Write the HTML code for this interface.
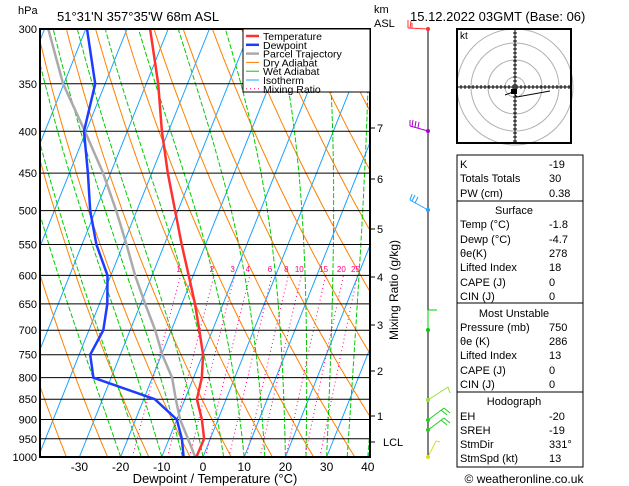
<!DOCTYPE html>
<html><head><meta charset="utf-8">
<style>
html,body{margin:0;padding:0;background:#fff;}
svg{display:block;font-family:"Liberation Sans",sans-serif;}
</style></head>
<body>
<svg id="chart" width="629" height="486" viewBox="0 0 629 486" xmlns="http://www.w3.org/2000/svg">
<defs><clipPath id="plotclip"><rect x="40" y="29" width="330" height="428"/></clipPath></defs>
<rect width="629" height="486" fill="#fff"/>
<g id="bg" clip-path="url(#plotclip)"></g>
<g id="grid"></g>
<g id="series" clip-path="url(#plotclip)"></g>
<g id="axes"></g>
<text x="18" y="14" font-size="11">hPa</text>
<text x="57" y="21" font-size="13">51°31'N  357°35'W  68m  ASL</text>
<text x="374" y="13" font-size="11">km</text>
<text x="374" y="27" font-size="11">ASL</text>
<text x="410" y="21" font-size="13">15.12.2022  03GMT  (Base: 06)</text>
<text x="215" y="483" font-size="13" text-anchor="middle">Dewpoint / Temperature (°C)</text>
<text transform="translate(398,290) rotate(-90)" font-size="12" text-anchor="middle">Mixing Ratio (g/kg)</text>
<g id="legend"></g>
<g id="winds"></g>
<g id="hodo"></g>
<g id="table"></g>
<text x="524" y="483" font-size="12" text-anchor="middle">© weatheronline.co.uk</text>
</svg>
<script>
const pressures = [1000,950,900,850,800,750,700,650,600,550,500,450,400,350,300];
const tempValues = [-1.6,-1.5,-3.9,-7.1,-8.0,-9.9,-13.2,-16.8,-21.1,-25.8,-30.7,-36.1,-41.6,-47.1,-54.4];
const dewValues = [-4.7,-6.9,-10.0,-17.3,-34.3,-37.3,-36.5,-38.1,-40.8,-46.5,-51.3,-55.5,-60.5,-62.4,-69.7];
const parcelValues = [-1.9,-5.4,-9.2,-12.2,-15.2,-19.8,-23.9,-28.9,-34.1,-39.2,-45.0,-51.8,-60.3,-70.2,-79.1];
const xTicks = [-30,-20,-10,0,10,20,30,40];
const pTicks = [300,350,400,450,500,550,600,650,700,750,800,850,900,950,1000];
const mixRatios = [1,2,3,4,6,8,10,15,20,25];
const kmTicks = [[7,128],[6,179],[5,229],[4,277],[3,325],[2,371],[1,416]];

const NS="http://www.w3.org/2000/svg";
function yP(p){return 29+428*Math.log(p/300)/Math.log(1000/300);}
function xT(T,p){return 203+4.12*T+0.4*(457-yP(p));}
function mk(tag,attrs,parent){const e=document.createElementNS(NS,tag);for(const k in attrs)e.setAttribute(k,attrs[k]);parent.appendChild(e);return e;}
const bg=document.getElementById('bg'),grid=document.getElementById('grid'),series=document.getElementById('series'),axes=document.getElementById('axes');
function poly(pts,stroke,w,dash,parent,name){const e=mk('polyline',{points:pts.map(p=>p[0].toFixed(1)+','+p[1].toFixed(1)).join(' '),fill:'none',stroke:stroke,'stroke-width':w},parent);if(dash)e.setAttribute('stroke-dasharray',dash);


return e;}
for(let T=-120;T<=40;T+=10){poly([[xT(T,1000),yP(1000)],[xT(T,300),yP(300)]],'#1aa3ff',1,null,bg,'isotherm');}
for(let th=200;th<=480;th+=10){const pts=[];for(let p=1000;p>=300;p-=10){pts.push([xT(th*Math.pow(p/1000,0.286)-273.15,p),yP(p)]);}poly(pts,'#ff8000',1,null,bg,'dry-adiabat');}
function es(T){return 6.112*Math.exp(17.67*T/(T+243.5));}
for(let T0=-20;T0<=40;T0+=5){let T=T0;const pts=[[xT(T,1000),yP(1000)]];for(let p=1000;p>300;p-=5){const Tk=T+273.15;const rs=0.622*es(T)/(p-es(T));const dTdp=(287*Tk+2.5e6*rs)/(1004+(2.5e6*2.5e6*rs*0.622)/(287*Tk*Tk))/p;T-=dTdp*5;pts.push([xT(T,p-5),yP(p-5)]);}poly(pts,'#00cc00',1,'5,2',bg,'wet-adiabat');}
function tdFromW(w,p){const e=w*p/(622+w);const l=Math.log(e/6.112);return 243.5*l/(17.67-l);}
mixRatios.forEach(w=>{const pts=[];for(let p=1000;p>=600;p-=20)pts.push([xT(tdFromW(w,p),p),yP(p)]);poly(pts,'#ff0080',1,'1,3',bg,'mixing-ratio-line');
const t=mk('text',{x:xT(tdFromW(w,600),600)-2,y:272,'font-size':8,fill:'#ff0080','text-anchor':'middle'},bg);t.textContent=w;

});
pTicks.forEach(p=>{const l=mk('line',{x1:40,x2:370,y1:yP(p),y2:yP(p),stroke:'#000','stroke-width':1},grid);


const t=mk('text',{x:37,y:yP(p)+4,'font-size':11,'text-anchor':'end'},axes);t.textContent=p;

});
xTicks.forEach(T=>{const t=mk('text',{x:xT(T,1000),y:471,'font-size':12,'text-anchor':'middle'},axes);t.textContent=T;

});
const fr=mk('rect',{x:40,y:29,width:330,height:428,fill:'none',stroke:'#000','stroke-width':2},axes);


kmTicks.forEach(k=>{mk('line',{x1:370,x2:375,y1:k[1],y2:k[1],stroke:'#000'},axes);const t=mk('text',{x:377,y:k[1]+4,'font-size':11},axes);t.textContent=k[0];

});
mk('line',{x1:370,x2:375,y1:442,y2:442,stroke:'#000'},axes);
const lcl=mk('text',{x:383,y:446,'font-size':11},axes);lcl.textContent='LCL';


function prof(vals){return pressures.map((p,i)=>[xT(vals[i],p),yP(p)]);}
poly(prof(parcelValues),'#aaaaaa',2.5,null,series,'parcel-trajectory');
poly(prof(dewValues),'#1e3cff',2.5,null,series,'dewpoint-line');
poly(prof(tempValues),'#ff3030',2.5,null,series,'temperature-line');
const lg=document.getElementById('legend');
mk('rect',{x:243,y:29,width:127,height:63,fill:'#fff',stroke:'#000','stroke-width':1},lg);
[['Temperature','#ff3030',2.5,null],['Dewpoint','#1e3cff',2.5,null],['Parcel Trajectory','#aaaaaa',2.5,null],['Dry Adiabat','#ff8000',1,null],['Wet Adiabat','#00cc00',1,null],['Isotherm','#1aa3ff',1,null],['Mixing Ratio','#ff0080',1,'1,3']].forEach((e,i)=>{const y=36+i*8.8;const l=mk('line',{x1:246,x2:259,y1:y,y2:y,stroke:e[1],'stroke-width':e[2]},lg);if(e[3])l.setAttribute('stroke-dasharray',e[3]);const t=mk('text',{x:263,y:y+4,'font-size':10.5},lg);t.textContent=e[0];

});
const wd=document.getElementById('winds');
mk('line',{x1:428,x2:428,y1:29,y2:457,stroke:'#000','stroke-width':1},wd);
function barb(x1,y1,x2,y2,col,extra){mk('line',{x1,y1,x2,y2,stroke:col,'stroke-width':1},wd);mk('circle',{cx:x1,cy:y1,r:2,fill:col},wd);(extra||[]).forEach(s=>mk('line',{x1:s[0],y1:s[1],x2:s[2],y2:s[3],stroke:col},wd));}
barb(428,29,408,28,'#ff3030',[[408,28,408,20],[410,28,411,21],[412,28,412,23]]);
barb(428,131,410,126,'#aa00cc',[[410,126,410,120],[412,127,413,120],[415,127,416,121],[418,128,419,122]]);
barb(428,210,410,200,'#1aa3ff',[[410,200,412,194],[412,201,415,195],[415,203,418,197]]);
barb(428,330,428,310,'#00cc00',[[428,310,437,310]]);
barb(428,400,448,387,'#99dd33',[[448,387,450,393]]);
barb(428,420,444,408,'#22cc22',[[444,408,450,413],[441,410,447,415]]);
barb(428,430,444,418,'#22cc22',[[444,418,450,423],[441,420,447,425]]);
barb(428,457,436,441,'#dddd22',[[436,441,440,442]]);
const hd=document.getElementById('hodo');
[10,27,44,58].forEach(r=>mk('circle',{cx:515,cy:87,r:r,fill:'none',stroke:'#b0b0b0'},hd));
mk('rect',{x:457,y:29,width:114,height:114,fill:'none',stroke:'#000','stroke-width':2},hd);
mk('line',{x1:457,x2:571,y1:87,y2:87,stroke:'#000'},hd);mk('line',{x1:515,x2:515,y1:29,y2:143,stroke:'#000'},hd);
for(let i=-54;i<=54;i+=4){mk('line',{x1:515+i,x2:515+i,y1:85,y2:89,stroke:'#000'},hd);mk('line',{x1:513,x2:517,y1:87+i,y2:87+i,stroke:'#000'},hd);}
mk('polyline',{points:'550,91 517,97 513,92 505,95',fill:'none',stroke:'#000'},hd);
mk('rect',{x:511,y:89,width:6,height:5,fill:'#000'},hd);
const kt=mk('text',{x:460,y:39,'font-size':10},hd);kt.textContent='kt';
const tb=document.getElementById('table');
[[155,201],[201,303],[303,392],[392,467]].forEach(b=>mk('rect',{x:457,y:b[0],width:126,height:b[1]-b[0],fill:'none',stroke:'#000','stroke-width':1},tb));
const rows=[[168,'K','-19'],[182,'Totals Totals','30'],[197,'PW (cm)','0.38'],[214,'Surface',null],[228,'Temp (°C)','-1.8'],[243,'Dewp (°C)','-4.7'],[257,'θe(K)','278'],[271,'Lifted Index','18'],[286,'CAPE (J)','0'],[300,'CIN (J)','0'],[317,'Most Unstable',null],[331,'Pressure (mb)','750'],[345,'θe (K)','286'],[359,'Lifted Index','13'],[374,'CAPE (J)','0'],[388,'CIN (J)','0'],[405,'Hodograph',null],[420,'EH','-20'],[434,'SREH','-19'],[448,'StmDir','331°'],[462,'StmSpd (kt)','13']];
rows.forEach(r=>{if(r[2]===null){const t=mk('text',{x:514,y:r[0],'font-size':11,'text-anchor':'middle'},tb);t.textContent=r[1];

}else{const a=mk('text',{x:460,y:r[0],'font-size':11},tb);a.textContent=r[1];


const b=mk('text',{x:549,y:r[0],'font-size':11},tb);b.textContent=r[2];

}});
</script>
</body></html>
